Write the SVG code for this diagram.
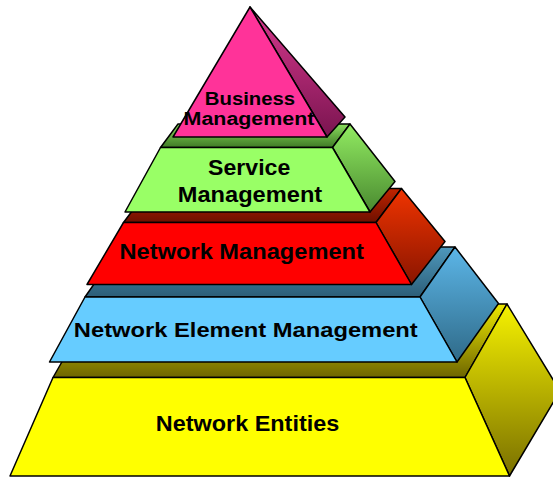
<svg xmlns="http://www.w3.org/2000/svg" width="553" height="479" viewBox="0 0 553 479">
<style>
.e{stroke:#000;stroke-width:1.5;stroke-linejoin:round}
.t{font-family:"Liberation Sans",Arial,sans-serif;font-weight:bold;fill:#000;text-anchor:middle}
</style>
<defs>
<linearGradient id="pinkSide" x1="0" y1="0" x2="0" y2="1"><stop offset="0" stop-color="#d83a8e"/><stop offset="1" stop-color="#7a1450"/></linearGradient>
<linearGradient id="greenSide" x1="0" y1="0" x2="0" y2="1"><stop offset="0" stop-color="#92ec62"/><stop offset="1" stop-color="#4a8a30"/></linearGradient>
<linearGradient id="greenTop" x1="0" y1="0" x2="0" y2="1"><stop offset="0" stop-color="#8ade5e"/><stop offset="1" stop-color="#3f7a25"/></linearGradient>
<linearGradient id="redSide" x1="0" y1="0" x2="0" y2="1"><stop offset="0" stop-color="#f03400"/><stop offset="1" stop-color="#8a1500"/></linearGradient>
<linearGradient id="redTop" x1="0" y1="0" x2="0" y2="1"><stop offset="0" stop-color="#c02400"/><stop offset="1" stop-color="#6e1000"/></linearGradient>
<linearGradient id="blueSide" x1="0" y1="0" x2="0" y2="1"><stop offset="0" stop-color="#5cb6e8"/><stop offset="1" stop-color="#2f6a88"/></linearGradient>
<linearGradient id="blueTop" x1="0" y1="0" x2="0" y2="1"><stop offset="0" stop-color="#4e98bc"/><stop offset="1" stop-color="#2c5e78"/></linearGradient>
<linearGradient id="yellowSide" x1="0" y1="0" x2="0" y2="1"><stop offset="0" stop-color="#f6f200"/><stop offset="1" stop-color="#7a7000"/></linearGradient>
<linearGradient id="yellowTop" x1="0" y1="0" x2="0" y2="1"><stop offset="0" stop-color="#eee800"/><stop offset="1" stop-color="#6e6600"/></linearGradient>
</defs>
<rect width="553" height="479" fill="#fff"/>

<g id="network-entities">
<polygon class="e" points="53,377.5 95,304 507,304 465,377.5" fill="url(#yellowTop)"/>
<polygon class="e" points="465,377.5 507,304 560,391 509.5,476" fill="url(#yellowSide)"/>
<polygon class="e" points="53,377.5 465,377.5 509.5,476 10,476" fill="#ffff00"/>
<text class="t" transform="translate(247.5,431) scale(1.065,1)" font-size="22">Network Entities</text>
</g>

<g id="network-element-management">
<polygon class="e" points="85,297 120,247 455,247 420,297" fill="url(#blueTop)"/>
<polygon class="e" points="420,297 455,247 498.5,303.5 457,362" fill="url(#blueSide)"/>
<polygon class="e" points="85,297 420,297 457,362 49.5,362" fill="#66ccff"/>
<text class="t" transform="translate(245.8,337.3) scale(1.13,1)" font-size="21">Network Element Management</text>
</g>

<g id="network-management">
<polygon class="e" points="123.5,222.5 149,188.5 401.5,188.5 376,222.5" fill="url(#redTop)"/>
<polygon class="e" points="376,222.5 401.5,188.5 445,241.5 411.5,284.5" fill="url(#redSide)"/>
<polygon class="e" points="123.5,222.5 376,222.5 411.5,284.5 87,284.5" fill="#ff0000"/>
<text class="t" transform="translate(241.7,259) scale(1.075,1)" font-size="22">Network Management</text>
</g>

<g id="service-management">
<polygon class="e" points="160.5,147.5 178,124 350,124 332.5,147.5" fill="url(#greenTop)"/>
<polygon class="e" points="332.5,147.5 350,124 395,181.5 370,212" fill="url(#greenSide)"/>
<polygon class="e" points="160.5,147.5 332.5,147.5 370,212 125,212" fill="#99ff66"/>
<text class="t" transform="translate(249.2,175) scale(1.05,1)" font-size="22">Service</text>
<text class="t" transform="translate(250,201.7) scale(1.075,1)" font-size="22">Management</text>
</g>

<g id="business-management">
<polygon class="e" points="250,7 345,117 327,137" fill="url(#pinkSide)"/>
<polygon class="e" points="250,7 327,137 173,137" fill="#ff3399"/>
<text class="t" transform="translate(250,104.5) scale(1.13,1)" font-size="18">Business</text>
<text class="t" transform="translate(249,124.5) scale(1.19,1)" font-size="18">Management</text>
</g>

<g id="connectors"/>
</svg>
